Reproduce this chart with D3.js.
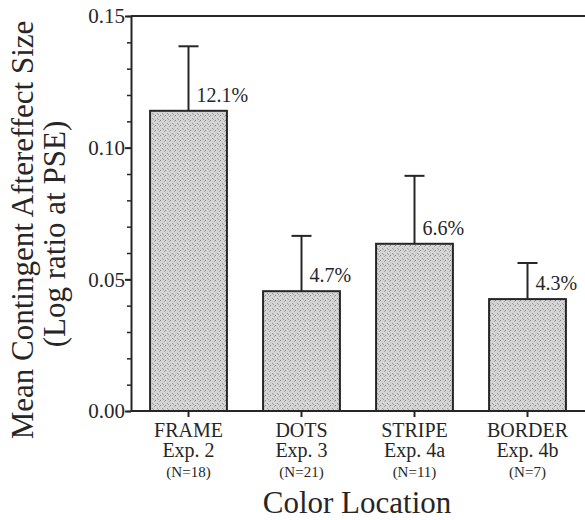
<!DOCTYPE html>
<html>
<head>
<meta charset="utf-8">
<script src="https://cdn.jsdelivr.net/npm/d3@7"></script>
<style>
  body { margin: 0; background: #fff; }
</style>
</head>
<body>
<div id="chart"></div>
<script>
// contingent aftereffect bar chart

const categories = ["FRAME", "DOTS", "STRIPE", "BORDER"];
const experiments = ["Exp. 2", "Exp. 3", "Exp. 4a", "Exp. 4b"];
const nLabels = ["(N=18)", "(N=21)", "(N=11)", "(N=7)"];
const means = [0.114, 0.0455, 0.0635, 0.0425];
const errTops = [0.1385, 0.0665, 0.0893, 0.0562];
const pctLabels = ["12.1%", "4.7%", "6.6%", "4.3%"];
const majorTicks = [0.00, 0.05, 0.10, 0.15];

const width = 585,
    height = 520,
    margin = ({ top: 16, right: 1, bottom: 109, left: 131 });

const ink = "#262626";

const svg = d3.select("#chart")
    .append("svg")
    .attr("width", width)
    .attr("height", height);

// stippled fill for the bars
const defs = svg.append("defs");
const pat = defs.append("pattern")
    .attr("id", "stipple")
    .attr("width", 5)
    .attr("height", 5)
    .attr("patternUnits", "userSpaceOnUse");
pat.append("rect").attr("width", 5).attr("height", 5).attr("fill", "#d4d4d4");
pat.append("rect").attr("x", 0).attr("y", 0).attr("width", 1).attr("height", 1).attr("fill", "#888");
pat.append("rect").attr("x", 2).attr("y", 3).attr("width", 1).attr("height", 1).attr("fill", "#999");
pat.append("rect").attr("x", 4).attr("y", 1).attr("width", 1).attr("height", 1).attr("fill", "#aaa");
pat.append("rect").attr("x", 3).attr("y", 4).attr("width", 1).attr("height", 1).attr("fill", "#a2a2a2");

let x = d3.scaleBand()
    .domain(categories)
    .range([margin.left + 1, width - margin.right])
    .paddingInner(0.32)
    .paddingOuter(0.16);

let y = d3.scaleLinear()
    .domain([0, 0.15])
    .range([height - margin.bottom, margin.top]);

// y axis with minor ticks every 0.01
svg.append("g")
    .attr("transform", `translate(${margin.left},0)`)
    .call(d3.axisLeft(y).tickValues(d3.range(0, 0.1501, 0.01)).tickFormat("").tickSize(4).tickSizeOuter(0))
    .call(g => g.select(".domain").attr("stroke", ink).attr("stroke-width", 2))
    .call(g => g.selectAll(".tick line").attr("stroke", ink).attr("stroke-width", 1.5));

svg.append("g")
    .attr("transform", `translate(${margin.left},0)`)
    .call(d3.axisLeft(y).tickValues(majorTicks).tickFormat(d3.format(".2f")).tickSize(6).tickPadding(0))
    .call(g => g.select(".domain").remove())
    .call(g => g.selectAll(".tick line").attr("stroke", ink).attr("stroke-width", 2))
    .call(g => g.selectAll(".tick text").attr("font-size", 21));

// top frame line
svg.append("line")
    .attr("x1", margin.left).attr("x2", width)
    .attr("y1", y(0.15)).attr("y2", y(0.15))
    .attr("stroke", ink).attr("stroke-width", 2);

// x axis
svg.append("g")
    .attr("transform", `translate(0,${y(0)})`)
    .call(d3.axisBottom(x).tickSize(6).tickSizeOuter(0).tickFormat(""))
    .call(g => g.select(".domain").attr("stroke", ink).attr("stroke-width", 2).attr("d", `M${margin.left},0H${width}`))
    .call(g => g.selectAll(".tick line").attr("stroke", ink).attr("stroke-width", 2));

// category labels
const labels = svg.append("g").attr("text-anchor", "middle");
categories.forEach((c, i) => {
    let cx = x(c) + x.bandwidth() / 2;
    labels.append("text").attr("x", cx).attr("y", 437).attr("font-size", 20).text(c);
    labels.append("text").attr("x", cx).attr("y", 457).attr("font-size", 20).text(experiments[i]);
    labels.append("text").attr("x", cx).attr("y", 477).attr("font-size", 15).text(nLabels[i]);
});

// error bars (upper only)
const err = svg.append("g").attr("stroke", ink).attr("stroke-width", 2);
categories.forEach((c, i) => {
    let cx = x(c) + x.bandwidth() / 2;
    err.append("line").attr("x1", cx).attr("x2", cx).attr("y1", y(means[i])).attr("y2", y(errTops[i]));
    err.append("line").attr("x1", cx - 10).attr("x2", cx + 10).attr("y1", y(errTops[i])).attr("y2", y(errTops[i]));
});

// bars
svg.append("g")
    .selectAll("rect")
    .data(means)
    .join("rect")
    .attr("x", (d, i) => x(categories[i]))
    .attr("y", d => y(d))
    .attr("width", x.bandwidth())
    .attr("height", d => y(0) - y(d))
    .attr("fill", "url(#stipple)")
    .attr("stroke", ink)
    .attr("stroke-width", 2);

// percent labels
svg.append("g")
    .selectAll("text")
    .data(pctLabels)
    .join("text")
    .attr("x", (d, i) => x(categories[i]) + x.bandwidth() / 2 + 8)
    .attr("y", (d, i) => y(means[i]) - 9)
    .attr("font-size", 20)
    .text(d => d);

// axis titles
svg.append("text")
    .attr("text-anchor", "middle")
    .attr("x", 357)
    .attr("y", 513)
    .attr("font-size", 31)
    .text("Color Location");

svg.append("text")
    .attr("text-anchor", "middle")
    .attr("transform", "translate(33,230) rotate(-90)")
    .attr("font-size", 31)
    .text("Mean Contingent Aftereffect Size");

svg.append("text")
    .attr("text-anchor", "middle")
    .attr("transform", "translate(65,234) rotate(-90)")
    .attr("font-size", 31)
    .text("(Log ratio at PSE)");

// serif face on every text, set inline so the axis defaults don't win
svg.selectAll("text")
    .style("font-family", "Liberation Serif")
    .attr("fill", ink);
</script>
</body>
</html>
